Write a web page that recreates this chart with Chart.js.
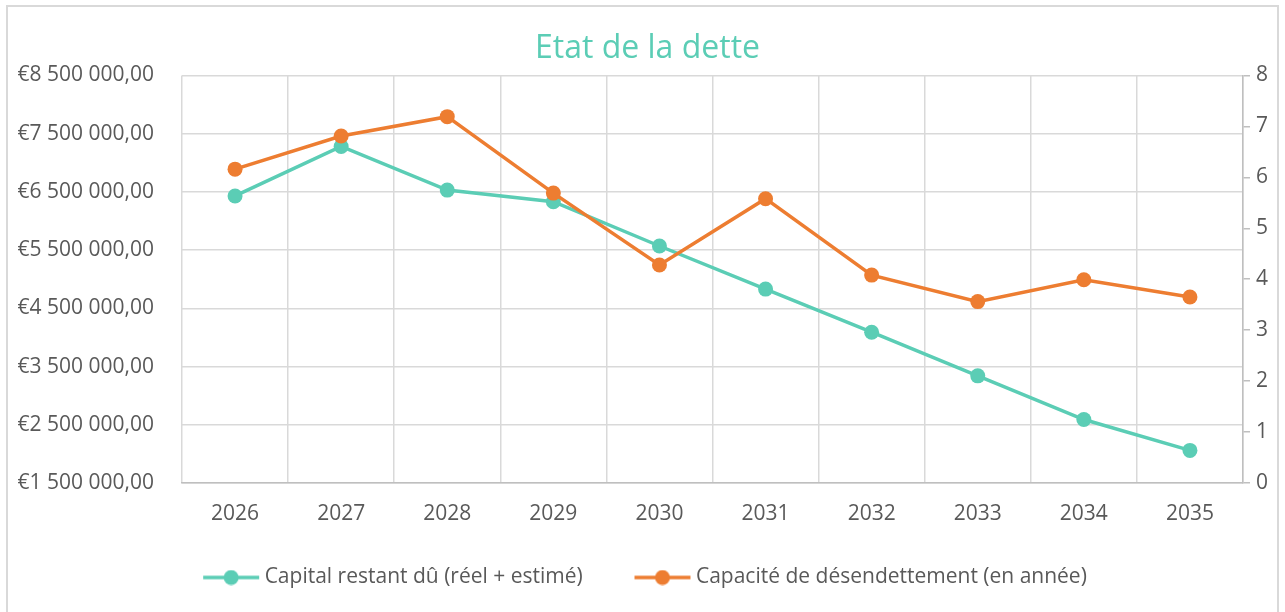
<!DOCTYPE html>
<html lang="fr">
<head>
<meta charset="utf-8">
<title>Etat de la dette</title>
<script src="https://cdn.jsdelivr.net/npm/chart.js@4/dist/chart.umd.min.js"></script>
<style>
  html, body { margin: 0; padding: 0; background: #fff; }
  body { width: 1285px; height: 612px; position: relative; overflow: hidden; }
  #frame {
    position: absolute; left: 6px; top: 5px; width: 1273px; height: 640px;
    border: 2px solid #d9d9d9; box-sizing: border-box;
  }
  #chart { position: absolute; left: 0; top: 0; }
</style>
</head>
<body>
<div id="frame"></div>
<canvas id="chart" width="1285" height="612"></canvas>
<script>
(function () {
  "use strict";

  const years = ["2026", "2027", "2028", "2029", "2030", "2031", "2032", "2033", "2034", "2035"];
  const capitalRestant = [6430000, 7280000, 6530000, 6330000, 5570000, 4830000, 4090000, 3340000, 2590000, 2060000];
  const capaciteDesendettement = [6.16, 6.81, 7.19, 5.69, 4.28, 5.58, 4.08, 3.56, 3.99, 3.65];

  const TEAL = "#5bcdb5";
  const ORANGE = "#ed7d31";
  const GRID = "#d9d9d9";
  const AXIS = "#bfbfbf";
  const TEXT = "#595959";
  const FONT = "'Open Sans', 'Noto Sans', sans-serif";

  const el = (id) => document.getElementById(id);

  function euro(v) {
    const s = String(Math.round(v)).replace(/\B(?=(\d{3})+(?!\d))/g, " ");
    return "€" + s + ",00";
  }

  // small line + dot swatch for the legend
  function swatch(color) {
    const c = document.createElement("canvas");
    c.width = 58;
    c.height = 16;
    const ctx = c.getContext("2d");
    ctx.strokeStyle = color;
    ctx.lineWidth = 3.5;
    ctx.beginPath();
    ctx.moveTo(1, 8);
    ctx.lineTo(57, 8);
    ctx.stroke();
    ctx.fillStyle = color;
    ctx.beginPath();
    ctx.arc(29, 8, 7.5, 0, Math.PI * 2);
    ctx.fill();
    return c;
  }

  const swatches = [swatch(TEAL), swatch(ORANGE)];
  // extra room after the first legend entry (legend padding is also vertical)
  const legendGap = ["      ", ""];

  new Chart(el("chart").getContext("2d"), {
    type: "line",
    data: {
      labels: years,
      datasets: [
        {
          label: "Capital restant dû (réel + estimé)",
          data: capitalRestant,
          yAxisID: "y",
          borderColor: TEAL,
          backgroundColor: TEAL,
          borderWidth: 3.5,
          pointRadius: 7.5,
          pointHoverRadius: 7.5,
          pointBorderWidth: 0,
          tension: 0,
          order: 1,
        },
        {
          label: "Capacité de désendettement (en année)",
          data: capaciteDesendettement,
          yAxisID: "y2",
          borderColor: ORANGE,
          backgroundColor: ORANGE,
          borderWidth: 3.5,
          pointRadius: 7.5,
          pointHoverRadius: 7.5,
          pointBorderWidth: 0,
          tension: 0,
          order: 0,
        },
      ],
    },
    options: {
      responsive: false,
      animation: false,
      devicePixelRatio: 1,
      layout: { padding: { left: 10, right: 0, top: 22, bottom: 14 } },
      scales: {
        x: {
          offset: true,
          grid: { offset: true, color: GRID, lineWidth: 1.5, drawTicks: false },
          border: { color: AXIS, width: 1.5 },
          ticks: { color: TEXT, font: { family: FONT, size: 21 }, padding: 18, maxRotation: 0 },
          afterFit: (s) => { s.height = 60; },
        },
        y: {
          position: "left",
          min: 1500000,
          max: 8500000,
          grid: { color: GRID, lineWidth: 1.5, drawTicks: false },
          border: { display: false },
          ticks: {
            stepSize: 1000000,
            color: TEXT,
            font: { family: FONT, size: 21 },
            padding: 28,
            callback: (v) => euro(v),
          },
          afterFit: (s) => { s.width = 172; },
        },
        y2: {
          position: "right",
          min: 0,
          max: 8,
          grid: { drawOnChartArea: false, color: AXIS, lineWidth: 1.5, tickLength: 7 },
          border: { color: AXIS, width: 1.5 },
          ticks: { stepSize: 1, color: TEXT, font: { family: FONT, size: 21 }, padding: 6 },
          afterFit: (s) => { s.width = 42; },
        },
      },
      plugins: {
        title: {
          display: true,
          text: "Etat de la dette",
          color: TEAL,
          font: { family: FONT, size: 32, weight: "normal" },
          padding: { top: 8, bottom: 7 },
        },
        legend: {
          position: "bottom",
          labels: {
            color: TEXT,
            font: { family: FONT, size: 21 },
            usePointStyle: true,
            pointStyleWidth: 46,
            boxHeight: 16,
            padding: 24,
            generateLabels: (chart) =>
              chart.data.datasets.map((ds, i) => ({
                text: ds.label + legendGap[i],
                fontColor: TEXT,
                pointStyle: swatches[i],
                fillStyle: ds.borderColor,
                strokeStyle: ds.borderColor,
                lineWidth: 0,
                hidden: false,
                datasetIndex: i,
              })),
          },
        },
        tooltip: { enabled: false },
      },
    },
  });
})();
</script>
</body>
</html>
